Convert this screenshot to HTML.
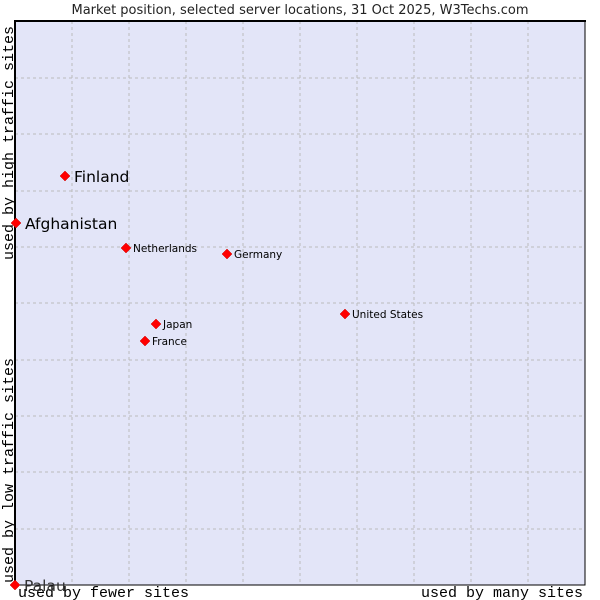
<!DOCTYPE html>
<html><head><style>
body{margin:0;background:#fff;}
svg{display:block;font-family:"DejaVu Sans",sans-serif;}
</style></head><body>
<svg width="600" height="600" xmlns="http://www.w3.org/2000/svg">
<rect x="15" y="21" width="570" height="564" fill="#e3e5f8"/>
<g stroke="#bbb" stroke-dasharray="3,3" stroke-width="1">
<line x1="72" y1="21" x2="72" y2="585"/><line x1="129" y1="21" x2="129" y2="585"/>
<line x1="186" y1="21" x2="186" y2="585"/><line x1="243" y1="21" x2="243" y2="585"/>
<line x1="300" y1="21" x2="300" y2="585"/><line x1="357" y1="21" x2="357" y2="585"/>
<line x1="414" y1="21" x2="414" y2="585"/><line x1="471" y1="21" x2="471" y2="585"/>
<line x1="528" y1="21" x2="528" y2="585"/>
<line x1="15" y1="78" x2="585" y2="78"/><line x1="15" y1="134" x2="585" y2="134"/>
<line x1="15" y1="191" x2="585" y2="191"/><line x1="15" y1="247" x2="585" y2="247"/>
<line x1="15" y1="303" x2="585" y2="303"/><line x1="15" y1="360" x2="585" y2="360"/>
<line x1="15" y1="416" x2="585" y2="416"/><line x1="15" y1="472" x2="585" y2="472"/>
<line x1="15" y1="529" x2="585" y2="529"/>
</g>
<rect x="15" y="21" width="570" height="564" fill="none" stroke="#000" stroke-width="1"/>
<line x1="15" y1="20" x2="15" y2="586" stroke="#000" stroke-width="2"/>
<line x1="14" y1="21" x2="586" y2="21" stroke="#000" stroke-width="2"/>
<text x="300" y="14" font-size="13" text-anchor="middle" fill="#222">Market position, selected server locations, 31 Oct 2025, W3Techs.com</text>
<g font-family="Liberation Mono, monospace" font-size="15" fill="#000">
<text x="18" y="597">used by fewer sites</text>
<text x="583" y="597" text-anchor="end">used by many sites</text>
<text transform="translate(13,260) rotate(-90)">used by high traffic sites</text>
<text transform="translate(13,583) rotate(-90)">used by low traffic sites</text>
</g>
<g fill="#f00" stroke="#c00" stroke-width="0.5">
<path d="M65,171 L70,176 L65,181 L60,176Z"/>
<path d="M16,218 L21,223 L16,228 L11,223Z"/>
<path d="M126,243 L131,248 L126,253 L121,248Z"/>
<path d="M227,249 L232,254 L227,259 L222,254Z"/>
<path d="M345,309 L350,314 L345,319 L340,314Z"/>
<path d="M156,319 L161,324 L156,329 L151,324Z"/>
<path d="M145,336 L150,341 L145,346 L140,341Z"/>
<path d="M15,580 L20,585 L15,590 L10,585Z"/>
</g>
<g fill="#000">
<text x="74" y="182" font-size="15.5">Finland</text>
<text x="25" y="229" font-size="15.5">Afghanistan</text>
<text x="133" y="252" font-size="10.5">Netherlands</text>
<text x="234" y="258" font-size="10.5">Germany</text>
<text x="352" y="318" font-size="10.5">United States</text>
<text x="163" y="328" font-size="10.5">Japan</text>
<text x="152" y="345" font-size="10.5">France</text>
<text x="24" y="591" font-size="15.5" fill="#333">Palau</text>
</g>
</svg>
</body></html>
